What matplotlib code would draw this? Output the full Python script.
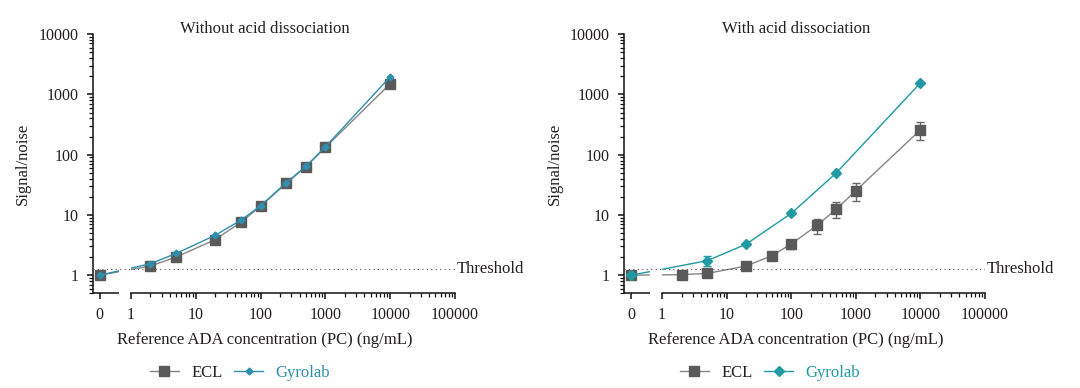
import numpy as np
import matplotlib
matplotlib.use("Agg")
import matplotlib.pyplot as plt
from matplotlib.lines import Line2D
from matplotlib.ticker import FixedLocator, FixedFormatter, NullFormatter

plt.rcParams['font.family'] = ['Liberation Serif', 'DejaVu Serif']

# data
conc = [0, 2, 5, 20, 50, 100, 250, 500, 1000, 10000]
ecl_left = [1.0, 1.42, 2.0, 3.9, 7.6, 13.9, 33.5, 63, 132, 1500]
gyro_left = [1.0, 1.55, 2.3, 4.6, 8.2, 14.2, 34.5, 64, 135, 1960]

ecl_right = [1.0, 1.02, 1.07, 1.42, 2.1, 3.3, 6.7, 12.5, 25.3, 258]
ecl_right_lo = [1.0, 1.0, 1.04, 1.38, 2.0, 2.75, 4.9, 8.9, 17.3, 177]
ecl_right_hi = [1.0, 1.04, 1.1, 1.46, 2.2, 3.9, 8.7, 16.3, 33.5, 347]
conc_gyro_right = [0, 5, 20, 100, 500, 10000]
gyro_right = [1.0, 1.74, 3.27, 10.6, 50, 1550]
gyro_right_lo = [1.0, 1.42, 3.15, 10.2, 48, 1500]
gyro_right_hi = [1.0, 2.07, 3.4, 11.0, 52, 1600]

threshold = 1.27
major_x = [0, 1, 10, 100, 1000, 10000, 100000]
major_x_labels = ['0', '1', '10', '100', '1000', '10000', '100000']
major_y = [1, 10, 100, 1000, 10000]

ECL_LINE = '#858585'
ECL_MARK = '#5a5a5a'
TEAL_L = '#2f8fae'
TEAL_R = '#1f9aa3'
TXT = '#231f20'

# broken x axis: 0 sits left of the log part (1 .. 100000)
A = 0.48
GAP_LO = 1 - 0.19 / A
XMIN = 1 - 0.59 / A


def fwd(x):
    x = np.asarray(x, float)
    with np.errstate(divide='ignore', invalid='ignore'):
        return np.where(x >= 1, np.log10(np.where(x >= 1, x, 1)), -A * (1 - x))


def inv(p):
    p = np.asarray(p, float)
    return np.where(p >= 0, 10 ** np.where(p >= 0, p, 0), 1 + p / A)


def style_axes(ax):
    ax.set_xscale('function', functions=(fwd, inv))
    ax.set_yscale('log')
    ax.set_xlim(XMIN, 100000)
    ax.set_ylim(0.5, 10000)
    ax.xaxis.set_major_locator(FixedLocator(major_x))
    ax.xaxis.set_major_formatter(FixedFormatter(major_x_labels))
    minor_x = [k * 10.0 ** d for d in range(0, 5) for k in range(2, 10)]
    ax.xaxis.set_minor_locator(FixedLocator(minor_x))
    ax.xaxis.set_minor_formatter(NullFormatter())
    ax.yaxis.set_major_locator(FixedLocator(major_y))
    ax.yaxis.set_major_formatter(FixedFormatter([str(v) for v in major_y]))
    minor_y = [k * 10.0 ** d for d in range(-1, 4) for k in range(2, 10) if k * 10.0 ** d >= 0.5]
    ax.yaxis.set_minor_locator(FixedLocator(minor_y))
    ax.yaxis.set_minor_formatter(NullFormatter())
    for s in ['top', 'right']:
        ax.spines[s].set_visible(False)
    ax.spines['bottom'].set_bounds(1, 100000)
    for s in ['bottom', 'left']:
        ax.spines[s].set_linewidth(1.1)
        ax.spines[s].set_color('#111111')
    ax.plot([XMIN, GAP_LO], [0, 0], transform=ax.get_xaxis_transform(),
            color='#111111', lw=1.1, clip_on=False, solid_capstyle='butt')
    ax.tick_params(which='major', length=4, width=1.1, labelsize=11.5,
                   labelcolor=TXT, direction='out', pad=6, color='#111111')
    ax.tick_params(which='minor', length=2.6, width=0.9, direction='out', color='#111111')
    # white out the curves inside the axis break
    ax.axvspan(GAP_LO, 1, color='white', zorder=2.5, lw=0)
    ax.axhline(threshold, color='#555555', lw=0.8, ls=(0, (1, 3)), zorder=3)
    ax.text(1.004, threshold, 'Threshold', transform=ax.get_yaxis_transform(),
            ha='left', va='center', fontsize=12, color=TXT, clip_on=False)


fig = plt.figure(figsize=(10.8, 3.88), dpi=100)
ax1 = fig.add_axes([92.7 / 1080, 0.244, 362.3 / 1080, 0.668])
ax2 = fig.add_axes([624 / 1080, 0.244, 361 / 1080, 0.668])

# left panel
style_axes(ax1)
ax1.plot(conc, ecl_left, color=ECL_LINE, lw=1.0, marker='s', ms=6.5,
         mfc=ECL_MARK, mec=ECL_MARK, zorder=2)
ax1.plot(conc, gyro_left, color=TEAL_L, lw=1.0, marker='D', ms=3.5,
         mfc=TEAL_L, mec=TEAL_L, zorder=2.2)

# right panel
style_axes(ax2)
ecl_err = [np.subtract(ecl_right, ecl_right_lo), np.subtract(ecl_right_hi, ecl_right)]
ax2.errorbar(conc, ecl_right, yerr=ecl_err, color=ECL_LINE, lw=1.0, marker='s', ms=6.5,
             mfc=ECL_MARK, mec=ECL_MARK, ecolor='#666666', elinewidth=1.0,
             capsize=3, capthick=1.0, zorder=2)
gyro_err = [np.subtract(gyro_right, gyro_right_lo), np.subtract(gyro_right_hi, gyro_right)]
ax2.errorbar(conc_gyro_right, gyro_right, yerr=gyro_err, color=TEAL_R, lw=1.0, marker='D',
             ms=5, mfc=TEAL_R, mec=TEAL_R, ecolor=TEAL_R, elinewidth=1.0,
             capsize=3, capthick=1.0, zorder=2.2)

# titles, labels
for cx, title in [(265, 'Without acid dissociation'), (796, 'With acid dissociation')]:
    fig.text(cx / 1080, 1 - 29 / 388, title, ha='center', va='center', fontsize=12, color=TXT)
    fig.text(cx / 1080, 1 - 340 / 388, 'Reference ADA concentration (PC) (ng/mL)',
             ha='center', va='center', fontsize=12, color=TXT)
for cx in [23, 555]:
    fig.text(cx / 1080, 1 - 164 / 388, 'Signal/noise', rotation=90,
             ha='center', va='center', fontsize=12, color=TXT)

for ax, cx, teal, gms in [(ax1, 240, TEAL_L, 3.5), (ax2, 770, TEAL_R, 5)]:
    handles = [Line2D([], [], color=ECL_LINE, lw=1.0, marker='s', ms=6.5,
                      mfc=ECL_MARK, mec=ECL_MARK),
               Line2D([], [], color=teal, lw=1.0, marker='D', ms=gms,
                      mfc=teal, mec=teal)]
    leg = ax.legend(handles, ['ECL', 'Gyrolab'], loc='center',
                    bbox_to_anchor=(cx / 1080, 1 - 373 / 388),
                    bbox_transform=fig.transFigure, ncol=2, frameon=False,
                    fontsize=12, handlelength=1.75, handletextpad=0.75,
                    columnspacing=0.7)
    leg.get_texts()[0].set_color(TXT)
    leg.get_texts()[1].set_color(teal)

fig.savefig('out.png', dpi=100)
